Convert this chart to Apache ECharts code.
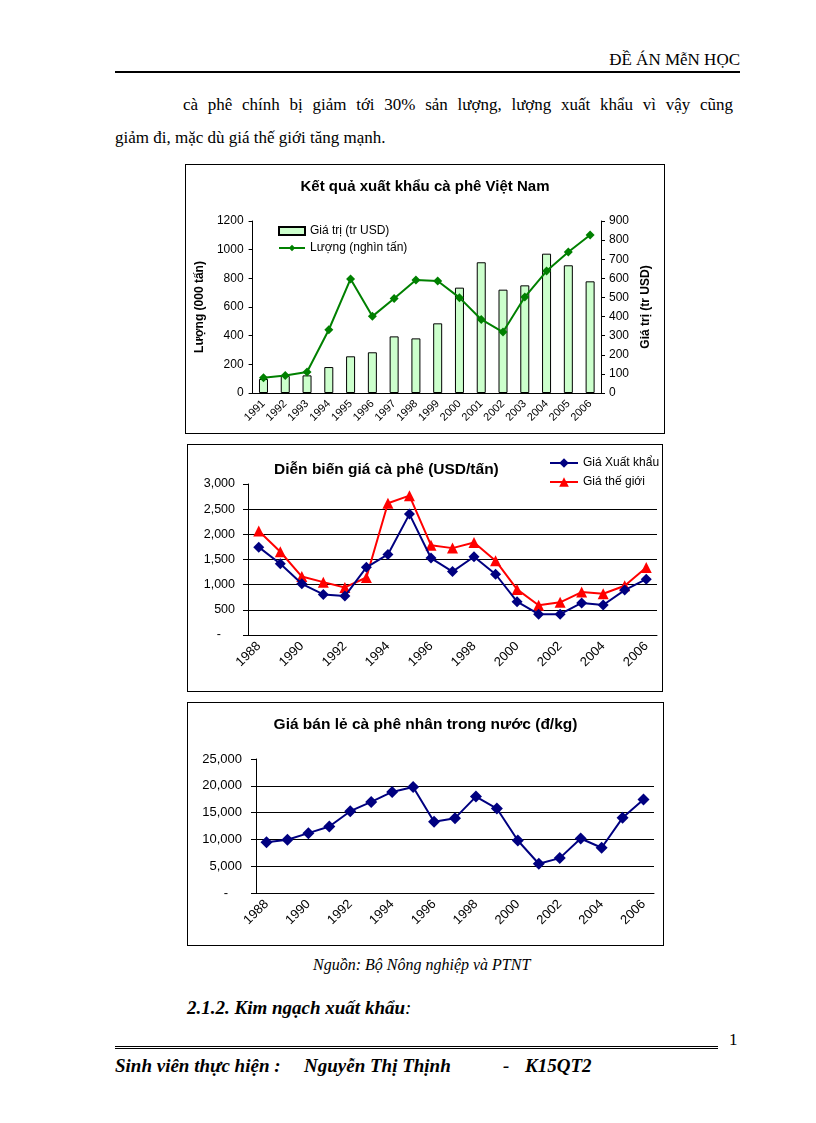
<!DOCTYPE html>
<html>
<head>
<meta charset="utf-8">
<script src="https://cdn.jsdelivr.net/npm/echarts@6/dist/echarts.min.js"></script>
<style>
  html, body { margin:0; padding:0; background:#fff; }
  body { width:816px; height:1123px; position:relative; overflow:hidden; font-family:"Liberation Serif","Times New Roman",serif; color:#000; }
  .t { position:absolute; white-space:nowrap; }
  .chart { position:absolute; border:1px solid #000; box-sizing:border-box; background:#fff; }
</style>
</head>
<body>
<div class="t" style="right:76px; top:48px; font-size:17px; line-height:24px;">ĐỀ ÁN MễN HỌC</div>
<div style="position:absolute; left:115px; top:71px; width:625px; border-top:2px solid #000;"></div>

<div class="t" style="left:183px; top:92px; width:550px; font-size:17px; line-height:26px; text-align:justify; text-align-last:justify;">cà phê chính bị giảm tới 30% sản lượng, lượng xuất khẩu vì vậy cũng</div>
<div class="t" style="left:115px; top:125px; font-size:17px; line-height:26px;">giảm đi, mặc dù giá thế giới tăng mạnh.</div>

<div id="c1" class="chart" style="left:185px; top:164px; width:480px; height:270px;"></div>
<div id="c2" class="chart" style="left:187px; top:444px; width:476px; height:248px;"></div>
<div id="c3" class="chart" style="left:187px; top:702px; width:477px; height:244px;"></div>

<div class="t" style="left:313px; top:954px; font-size:16px; line-height:22px; font-style:italic;">Nguồn: Bộ Nông nghiệp và PTNT</div>
<div class="t" style="left:187px; top:995px; font-size:19px; line-height:26px; font-style:italic; font-weight:bold;">2.1.2. Kim ngạch xuất khẩu<span style="font-weight:normal;">:</span></div>

<div class="t" style="left:729px; top:1029px; font-size:17px; line-height:22px;">1</div>
<div style="position:absolute; left:115px; top:1046px; width:603px; height:1px; border-top:3px double #000;"></div>
<div class="t" style="left:115px; top:1053px; font-size:19px; line-height:26px; font-style:italic; font-weight:bold;">Sinh viên thực hiện :</div>
<div class="t" style="left:304px; top:1053px; font-size:19px; line-height:26px; font-style:italic; font-weight:bold;">Nguyễn Thị Thịnh</div>
<div class="t" style="left:503px; top:1053px; font-size:19px; line-height:26px; font-style:italic; font-weight:bold;">-</div>
<div class="t" style="left:525px; top:1053px; font-size:19px; line-height:26px; font-style:italic; font-weight:bold;">K15QT2</div>

<script>
// ---- Chart 1 data ----
const years1 = ['1991','1992','1993','1994','1995','1996','1997','1998','1999','2000','2001','2002','2003','2004','2005','2006'];
const barValues = [98,119,123,181,256,284,395,381,486,735,912,721,751,972,891,779];   // left axis
const lineValues = [80,92,110,331,597,401,495,591,586,499,385,319,502,638,738,827];   // right axis
const leftTicks = { min:0, max:1200, interval:200 };
const rightTicks = { min:0, max:900, interval:100 };

// ---- Chart 2 data ----
const years2 = ['1988','1989','1990','1991','1992','1993','1994','1995','1996','1997','1998','1999','2000','2001','2002','2003','2004','2005','2006'];
const exportPrice = [1745,1417,1017,807,774,1345,1601,2402,1529,1260,1555,1207,663,413,413,636,597,892,1109];
const worldPrice = [2067,1654,1161,1050,945,1142,2618,2769,1785,1726,1837,1476,906,591,650,853,820,978,1339];

// ---- Chart 3 data ----
const retailPrice = [9490,9930,11170,12410,15260,17000,18860,19790,13280,13960,17990,15760,9800,5460,6510,10170,8440,14020,17430];

const FONT = '"Liberation Sans", Arial, sans-serif';
const fmt = v => v === 0 ? '{d|-}' : v.toLocaleString('en-US');
const plain = v => String(v);

// Chart 1
echarts.init(document.getElementById('c1')).setOption({
  animation:false,
  textStyle:{ fontFamily:FONT, color:'#000' },
  title:{ text:'Kết quả xuất khẩu cà phê Việt Nam', left:'center', top:9,
    textStyle:{ fontFamily:FONT, fontSize:15, fontWeight:'bold', color:'#000' } },
  legend:{ orient:'vertical', left:87, top:55, itemGap:5, itemWidth:26, itemHeight:8,
    textStyle:{ fontFamily:FONT, fontSize:12, color:'#000' },
    data:[ { name:'Giá trị (tr USD)', icon:'rect' }, { name:'Lượng (nghìn tấn)' } ] },
  grid:{ left:62, right:63, top:56, bottom:40 },
  xAxis:{ type:'category', data:years1, boundaryGap:true,
    axisLine:{ lineStyle:{ color:'#000', width:1 } },
    axisTick:{ interval:0, length:4, lineStyle:{ color:'#000' } },
    axisLabel:{ interval:0, rotate:45, fontSize:11, color:'#000', fontFamily:FONT, margin:9 } },
  yAxis:[
    { type:'value', ...leftTicks, name:'Lượng (000 tấn)', nameLocation:'middle', nameRotate:90, nameGap:45,
      nameTextStyle:{ fontFamily:FONT, fontSize:12, fontWeight:'bold', color:'#000' },
      axisLine:{ show:true, lineStyle:{ color:'#000' } }, axisTick:{ show:true, length:4, lineStyle:{ color:'#000' } },
      axisLabel:{ fontSize:12, color:'#000', fontFamily:FONT, margin:9, formatter:plain }, splitLine:{ show:false } },
    { type:'value', ...rightTicks, name:'Giá trị (tr USD)', nameLocation:'middle', nameRotate:90, nameGap:35,
      nameTextStyle:{ fontFamily:FONT, fontSize:12, fontWeight:'bold', color:'#000' },
      axisLine:{ show:true, lineStyle:{ color:'#000' } }, axisTick:{ show:true, length:4, lineStyle:{ color:'#000' } },
      axisLabel:{ fontSize:12, color:'#000', fontFamily:FONT, margin:8, formatter:plain }, splitLine:{ show:false } }
  ],
  series:[
    { name:'Giá trị (tr USD)', type:'bar', yAxisIndex:0, data:barValues, barWidth:9,
      itemStyle:{ color:'#CCFFCC', borderColor:'#000', borderWidth:1 } },
    { name:'Lượng (nghìn tấn)', type:'line', yAxisIndex:1, data:lineValues, symbol:'diamond', symbolSize:9,
      lineStyle:{ color:'#008000', width:2 }, itemStyle:{ color:'#008000' }, z:5 }
  ]
});

const axisY = (ticks, fontSize, margin) => ({
  type:'value', ...ticks,
  axisLine:{ show:true, lineStyle:{ color:'#000' } },
  axisTick:{ show:true, length:5, lineStyle:{ color:'#000' } },
  axisLabel:{ fontSize, color:'#000', fontFamily:FONT, margin, formatter:fmt,
    rich:{ d:{ fontSize, fontFamily:FONT, color:'#000', padding:[0,14,0,0] } } },
  splitLine:{ show:true, showMinLine:false, showMaxLine:false, lineStyle:{ color:'#000', width:1 } }
});
const axisX = (fontSize) => ({
  type:'category', data:years2, boundaryGap:true,
  axisLine:{ lineStyle:{ color:'#000' } },
  axisTick:{ interval:0, length:5, lineStyle:{ color:'#000' } },
  axisLabel:{ interval:1, rotate:45, fontSize, color:'#000', fontFamily:FONT, margin:9 }
});

// Chart 2
echarts.init(document.getElementById('c2')).setOption({
  animation:false,
  textStyle:{ fontFamily:FONT, color:'#000' },
  title:{ text:'Diễn biến giá cà phê (USD/tấn)', left:81, top:12,
    textStyle:{ fontFamily:FONT, fontSize:15.5, fontWeight:'bold', color:'#000' } },
  legend:{ orient:'vertical', left:356, top:7, itemGap:7, itemWidth:28, itemHeight:12,
    textStyle:{ fontFamily:FONT, fontSize:12, color:'#000' } },
  grid:{ left:60, right:5, top:39, bottom:56 },
  xAxis:axisX(13),
  yAxis:axisY({ min:0, max:3000, interval:500 }, 12.5, 13),
  series:[
    { name:'Giá Xuất khẩu', type:'line', data:exportPrice, symbol:'diamond', symbolSize:11,
      lineStyle:{ color:'#000080', width:2 }, itemStyle:{ color:'#000080' }, z:4 },
    { name:'Giá thế giới', type:'line', data:worldPrice, symbol:'triangle', symbolSize:11,
      lineStyle:{ color:'#FF0000', width:2 }, itemStyle:{ color:'#FF0000' }, z:3 }
  ]
});

// Chart 3
echarts.init(document.getElementById('c3')).setOption({
  animation:false,
  textStyle:{ fontFamily:FONT, color:'#000' },
  title:{ text:'Giá bán lẻ cà phê nhân trong nước (đ/kg)', left:'center', top:9,
    textStyle:{ fontFamily:FONT, fontSize:15.5, fontWeight:'bold', color:'#000' } },
  grid:{ left:68, right:9, top:56, bottom:52 },
  xAxis:axisX(13),
  yAxis:axisY({ min:0, max:25000, interval:5000 }, 13, 14),
  series:[
    { name:'Giá bán lẻ', type:'line', data:retailPrice, symbol:'diamond', symbolSize:12,
      lineStyle:{ color:'#000080', width:2 }, itemStyle:{ color:'#000080' } }
  ]
});
</script>
</body>
</html>
